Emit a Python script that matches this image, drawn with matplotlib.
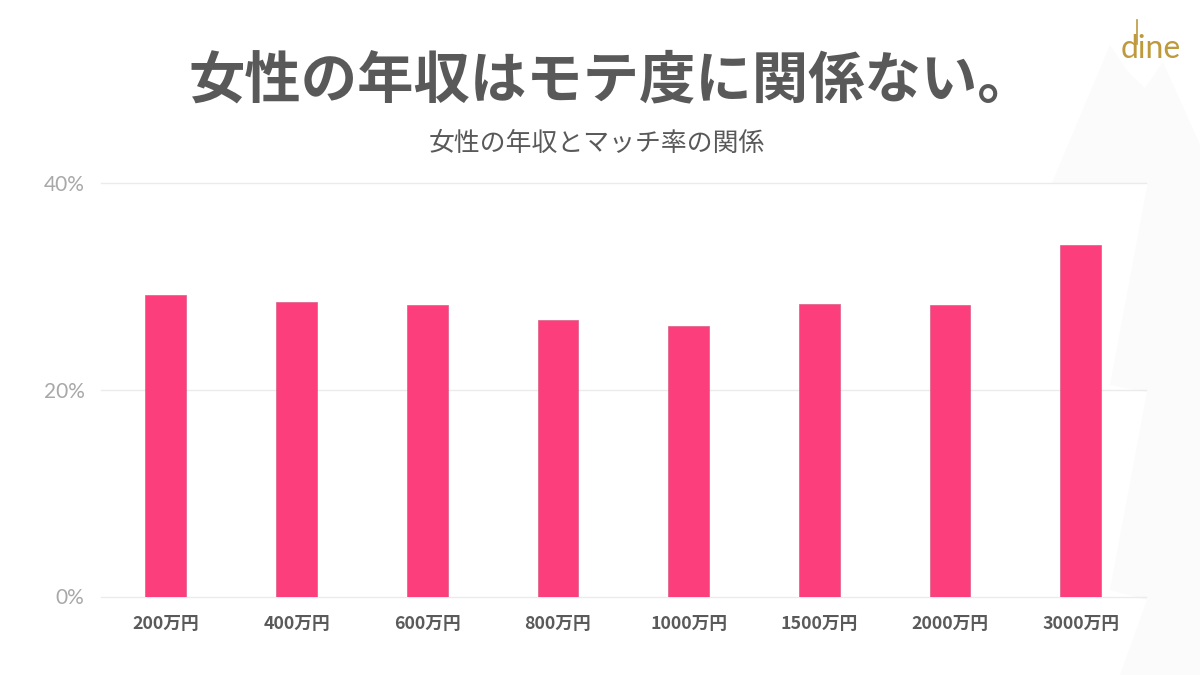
import matplotlib
matplotlib.use("Agg")
import matplotlib.pyplot as plt
from matplotlib.patches import Polygon
from matplotlib.lines import Line2D

plt.rcParams['font.family'] = ['Noto Sans CJK JP', 'DejaVu Sans']

categories = ['200万円', '400万円', '600万円', '800万円', '1000万円', '1500万円', '2000万円', '3000万円']
match_rate = [29.2, 28.5, 28.2, 26.7, 26.2, 28.3, 28.2, 34.0]
y_ticks = [0, 20, 40]
y_labels = ['0%', '20%', '40%']
title = '女性の年収はモテ度に関係ない。'
subtitle = '女性の年収とマッチ率の関係'

W, H = 1200, 675
fig = plt.figure(figsize=(W / 100, H / 100), dpi=100, facecolor='white')

# faint mountain backdrop, in pixel coordinates of the figure
bg = fig.add_axes([0, 0, 1, 1], zorder=0)
bg.set_xlim(0, W)
bg.set_ylim(H, 0)
bg.axis('off')
tone = '#fbfbfc'
bg.add_patch(Polygon([(1052, 183), (1110, 45), (1128, 72), (1145, 88), (1163, 62),
                      (1200, 145), (1200, 675), (1120, 675), (1147, 600),
                      (1110, 590), (1147, 392), (1110, 385), (1147, 187), (1147, 183)],
                     closed=True, fc=tone, ec='none'))
# tall stem of the logo's d
bg.add_line(Line2D([1137, 1137], [20, 44], color='#BF9A3C', linewidth=1.2))

ax = fig.add_axes([100.5 / W, 1 - 596.5 / H, 1045.5 / W, 413.5 / H], zorder=1)
ax.patch.set_alpha(0)
ax.bar(categories, match_rate, width=0.312, color='#FC3F7C', edgecolor='#dc5c86',
       linewidth=0.5, zorder=3)
ax.set_xlim(-0.5, len(categories) - 0.5)
ax.set_ylim(0, 40)
ax.set_yticks(y_ticks, y_labels)
ax.grid(axis='y', color='#ebebeb', linewidth=1, zorder=0, clip_on=False)
ax.set_axisbelow(True)
for s in ax.spines.values():
    s.set_visible(False)
ax.tick_params(axis='both', length=0)
ax.tick_params(axis='y', labelsize=14, labelcolor='#a8a8a8', pad=11.5)
ax.tick_params(axis='x', labelsize=12.8, labelcolor='#5a5a5a', pad=13)
for t in ax.get_xticklabels():
    t.set_fontweight('bold')
for t in ax.get_yticklabels():
    t.set_fontfamily(['Lato', 'DejaVu Sans'])
    t.set_fontweight('normal')
    t.set_fontsize(15)

fig.text(611.5 / W, 1 - 81 / H, title, ha='center', va='center', fontsize=40.6,
         fontweight='bold', color='#595959')
fig.text(597 / W, 1 - 143 / H, subtitle, ha='center', va='center', fontsize=18.6,
         color='#595959')
fig.text(1151 / W, 1 - 58 / H, 'dine', ha='center', va='baseline', fontsize=23,
         color='#BF9A3C', family=['Lato', 'DejaVu Sans'])

fig.savefig('out.png', dpi=100)
